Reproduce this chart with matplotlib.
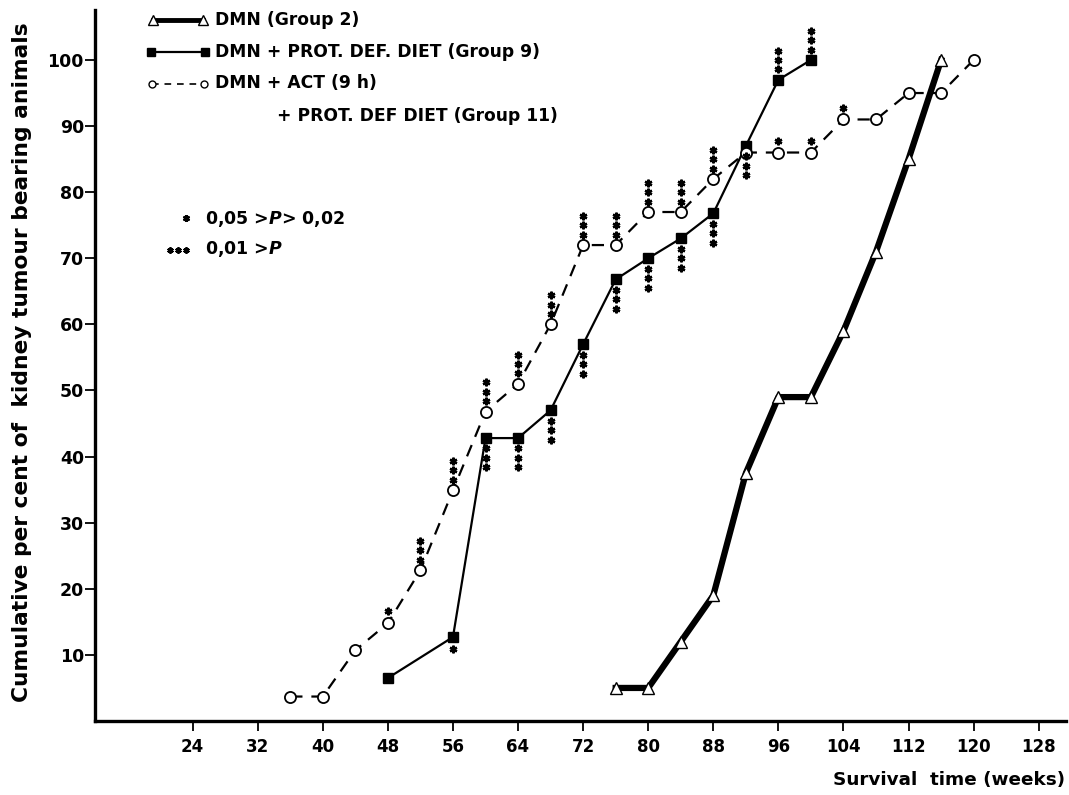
import matplotlib
matplotlib.use("Agg")
import matplotlib.pyplot as plt
from matplotlib.transforms import offset_copy

plt.rcParams['font.family'] = ['DejaVu Sans']
plt.rcParams['font.weight'] = 'bold'
plt.rcParams['mathtext.fontset'] = 'custom'
plt.rcParams['mathtext.it'] = 'DejaVu Sans:italic:bold'
plt.rcParams['mathtext.rm'] = 'DejaVu Sans:bold'

# ---- data ----
g2_weeks = [76, 80, 84, 88, 92, 96, 100, 104, 108, 112, 116]
g2_pct = [5, 5, 12, 19, 37.5, 49, 49, 59, 71, 85, 100]

g9_weeks = [48, 56, 60, 64, 68, 72, 76, 80, 84, 88, 92, 96, 100]
g9_pct = [6.5, 12.7, 42.8, 42.8, 47, 57, 66.8, 70, 73, 76.8, 87, 97, 100]

g11_weeks = [36, 40, 44, 48, 52, 56, 60, 64, 68, 72, 76, 80, 84, 88, 92, 96, 100, 104, 108, 112, 116, 120]
g11_pct = [3.7, 3.7, 10.7, 14.8, 22.8, 34.9, 46.8, 51, 60, 72, 72, 77, 77, 82, 86, 86, 86, 91, 91, 95, 95, 100]

# significance asterisks: week, number of asterisks, side (+1 above, -1 below)
sig11_weeks = [48, 52, 56, 60, 64, 68, 72, 76, 80, 84, 88, 96, 100, 104]
sig11_count = [1, 3, 3, 3, 3, 3, 3, 3, 3, 3, 3, 1, 1, 1]
sig11_side = [1] * 14

sig9_weeks = [56, 60, 64, 68, 72, 76, 80, 84, 88, 92, 96, 100]
sig9_count = [1, 3, 3, 3, 3, 3, 3, 3, 3, 3, 3, 3]
sig9_side = [-1, -1, -1, -1, -1, -1, -1, -1, -1, -1, 1, 1]

x_ticks = [24, 32, 40, 48, 56, 64, 72, 80, 88, 96, 104, 112, 120, 128]
y_ticks = [10, 20, 30, 40, 50, 60, 70, 80, 90, 100]

legend_labels = ["DMN (Group 2)", "DMN + PROT. DEF. DIET (Group 9)", "DMN + ACT (9 h)",
                 "+ PROT. DEF DIET (Group 11)"]
sig_labels = ["0,05 >$P$> 0,02", "0,01 >$P$"]

# ---- figure ----
W, H = 1069, 795
fig = plt.figure(figsize=(W / 100, H / 100), dpi=100)
ax = fig.add_axes([95 / W, 74 / H, 971.4 / W, 710.6 / H])
ax.set_xlim(12, 131.4)
ax.set_ylim(0, 107.5)

for s in ['top', 'right']:
    ax.spines[s].set_visible(False)
for s in ['left', 'bottom']:
    ax.spines[s].set_linewidth(2.4)

ax.set_xticks(x_ticks)
ax.set_xticklabels([str(t) for t in x_ticks], fontsize=12, fontweight='bold')
ax.set_yticks(y_ticks)
ax.set_yticklabels([str(t) for t in y_ticks], fontsize=12.5, fontweight='bold')
ax.tick_params(axis='x', direction='out', length=7, width=1.3, pad=5)
ax.tick_params(axis='y', direction='out', length=7, width=1.3, pad=1)

# series
ax.plot(g2_weeks, g2_pct, color='black', lw=4.5, marker='^', ms=8,
        mfc='white', mec='black', mew=1.0, zorder=3)
ax.plot(g9_weeks, g9_pct, color='black', lw=1.6, marker='s', ms=7,
        mfc='black', mec='black', zorder=4)
ax.plot(g11_weeks, g11_pct, color='black', lw=1.6, ls=(0, (5.5, 4)), marker='o', ms=8,
        mfc='white', mec='black', mew=1.3, zorder=5)

# asterisks
def stars(weeks, pct_src, wk_src, counts, sides):
    for w, n, side in zip(weeks, counts, sides):
        y = pct_src[wk_src.index(w)]
        for i in range(n):
            dy = side * (7.5 + 6.8 * i) if n > 1 else side * 8.5
            tr = offset_copy(ax.transData, fig=fig, x=0, y=dy, units='points')
            ax.plot([w], [y], transform=tr, marker=(6, 2, 0), ms=5.5, mew=1.7,
                    color='black', ls='none', zorder=6)

stars(sig11_weeks, g11_pct, g11_weeks, sig11_count, sig11_side)
stars(sig9_weeks, g9_pct, g9_weeks, sig9_count, sig9_side)

# axis labels
fig.text(22 / W, 1 - 362 / H, "Cumulative per cent of  kidney tumour bearing animals",
         rotation=90, ha='center', va='center', fontsize=15.7, fontweight='bold')
fig.text(1065 / W, 1 - 780 / H, "Survival  time (weeks)", ha='right', va='center',
         fontsize=13.2, fontweight='bold')

# legend (drawn manually)
ft = fig.transFigure
def fx(px):
    return px / W
def fy(py):
    return 1 - py / H

fig.add_artist(plt.Line2D([fx(153), fx(203)], [fy(20), fy(20)], transform=ft, color='black',
                          lw=3.5, marker='^', ms=7, mfc='white', mec='black', mew=1.0))
fig.add_artist(plt.Line2D([fx(151), fx(205)], [fy(52), fy(52)], transform=ft, color='black',
                          lw=1.6, marker='s', ms=6, mfc='black', mec='black'))
fig.add_artist(plt.Line2D([fx(152), fx(204)], [fy(84), fy(84)], transform=ft, color='black',
                          lw=1.2, ls=(0, (4, 3.5)), marker='o', ms=5, mfc='white', mec='black', mew=1.0))

leg_x = [215, 215, 215, 277]
leg_y = [20, 52, 83, 116]
for lab, x, y in zip(legend_labels, leg_x, leg_y):
    fig.text(fx(x), fy(y), lab, ha='left', va='center', fontsize=12.3, fontweight='bold')

# significance legend
fig.add_artist(plt.Line2D([fx(186)], [fy(218)], transform=ft, marker=(6, 2, 0), ms=5, mew=1.6,
                          color='black', ls='none'))
fig.add_artist(plt.Line2D([fx(170), fx(178), fx(186)], [fy(250)] * 3, transform=ft,
                          marker=(6, 2, 0), ms=4.5, mew=1.5, color='black', ls='none'))
fig.text(fx(205), fy(219), sig_labels[0], ha='left', va='center', fontsize=12.5, fontweight='bold')
fig.text(fx(205), fy(249), sig_labels[1], ha='left', va='center', fontsize=12.5, fontweight='bold')

fig.savefig("out.png", dpi=100)
